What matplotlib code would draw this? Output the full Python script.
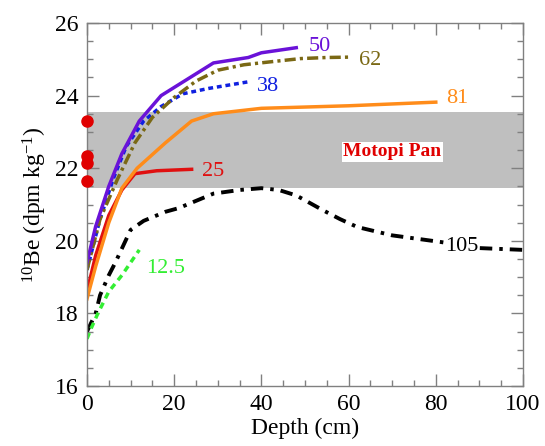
import numpy as np
import matplotlib
matplotlib.use("Agg")
import matplotlib.pyplot as plt
from matplotlib.ticker import MultipleLocator

plt.rcParams["font.family"] = ["Liberation Serif", "DejaVu Serif"]
plt.rcParams["mathtext.fontset"] = "custom"
plt.rcParams["mathtext.rm"] = "Liberation Serif"
plt.rcParams["mathtext.default"] = "regular"

# 10Be profiles vs depth, labelled by core depth (cm)
d50 = [0, 2, 5, 8, 12, 17, 23, 29, 37, 40, 48]
be50 = [19.4, 20.4, 21.5, 22.4, 23.3, 24.0, 24.45, 24.9, 25.05, 25.18, 25.32]

d62 = [0, 3, 7, 11, 15, 20, 25, 30, 36, 42, 49, 55, 60]
be62 = [19.2, 20.6, 21.7, 22.7, 23.4, 23.95, 24.4, 24.7, 24.85, 24.93, 25.02, 25.05, 25.06]

d38 = [0, 3, 6, 9, 13, 17, 22, 28, 33, 37]
be38 = [19.2, 20.6, 21.7, 22.6, 23.3, 23.7, 24.05, 24.2, 24.3, 24.38]

d81 = [0, 2, 5, 8, 11.5, 18, 24, 29, 40, 60, 80]
be81 = [18.4, 19.3, 20.5, 21.45, 22.0, 22.7, 23.3, 23.5, 23.65, 23.72, 23.82]

d25 = [0, 2, 5, 8, 11, 16, 24]
be25 = [18.6, 19.6, 20.7, 21.4, 21.85, 21.93, 21.97]

d105 = [0, 2, 3, 5, 6.5, 10, 13, 18, 21, 24, 29, 35, 40, 44, 48, 54, 58, 62, 70, 81, 90, 100]
be105 = [17.5, 18.0, 18.5, 19.05, 19.4, 20.3, 20.55, 20.8, 20.9, 21.05, 21.3, 21.4, 21.45,
         21.4, 21.25, 20.85, 20.6, 20.38, 20.15, 19.97, 19.8, 19.75]

d12 = [0, 1, 2.5, 5, 8, 10, 12]
be12 = [17.3, 17.6, 18.0, 18.6, 19.05, 19.4, 19.75]

# surface samples and Motopi Pan range
surface_be = [23.3, 22.35, 22.15, 21.65]
pan_low, pan_high = 21.45, 23.55

fig = plt.figure(figsize=(5.45, 4.46), dpi=100)
ax = fig.add_axes([0.1596, 0.1345, 0.8, 0.8139])

ax.axhspan(pan_low, pan_high, color="#bfbfbf", lw=0, zorder=0)
ax.text(70, 22.45, "Motopi Pan", color="#e00000", fontsize=14, fontweight="bold",
        ha="center", va="center", bbox=dict(facecolor="white", edgecolor="none", pad=1))

lw = 2.5
ax.plot(d105, be105, color="black", lw=2.8, dashes=(3.2, 1.8, 0.9, 1.8))
ax.plot(d12, be12, color="#33ee33", lw=lw, dashes=(1.8, 1.4))
ax.plot(d25, be25, color="#e01010", lw=lw)
ax.plot(d81, be81, color="#ff8c1a", lw=lw)
ax.plot(d38, be38, color="#1020e0", lw=lw, dashes=(1.4, 1.1))
ax.plot(d62, be62, color="#7a6814", lw=lw, dashes=(3.2, 1.2, 0.9, 1.2))
ax.plot(d50, be50, color="#6a12d8", lw=lw)

ax.plot([0] * len(surface_be), surface_be, "o", color="#e00000", ms=8, clip_on=False, zorder=5)

lab = dict(fontsize=16, ha="center", va="center")
ax.text(53.5, 25.36, "50", color="#6a12d8", **lab)
ax.text(65, 24.98, "62", color="#7a6814", **lab)
ax.text(41.5, 24.24, "38", color="#1020e0", **lab)
ax.text(85, 23.93, "81", color="#ff8c1a",
        bbox=dict(facecolor="white", edgecolor="none", pad=0.5), **lab)
ax.text(29, 21.92, "25", color="#e01010", **lab)
ax.text(86, 19.85, "105", color="black",
        bbox=dict(facecolor="white", edgecolor="none", pad=0.5), **lab)
ax.text(18, 19.25, "12.5", color="#33ee33", **lab)

ax.set_xlim(0, 100)
ax.set_ylim(16, 26)
ax.xaxis.set_major_locator(MultipleLocator(20))
ax.xaxis.set_minor_locator(MultipleLocator(5))
ax.yaxis.set_major_locator(MultipleLocator(2))
ax.yaxis.set_minor_locator(MultipleLocator(0.5))
ax.tick_params(which="both", direction="in", top=True, right=True, color="#808080",
               labelsize=17, width=1)
ax.tick_params(which="major", length=8.5, pad=6)
ax.tick_params(which="minor", length=4)
for s in ax.spines.values():
    s.set_color("#808080")
    s.set_linewidth(1)

ax.set_xlabel("Depth (cm)", fontsize=17, labelpad=2)
ax.set_ylabel("$^{10}$Be (dpm kg$^{-1}$)", fontsize=17, labelpad=4)

fig.savefig("out.png", dpi=100)
